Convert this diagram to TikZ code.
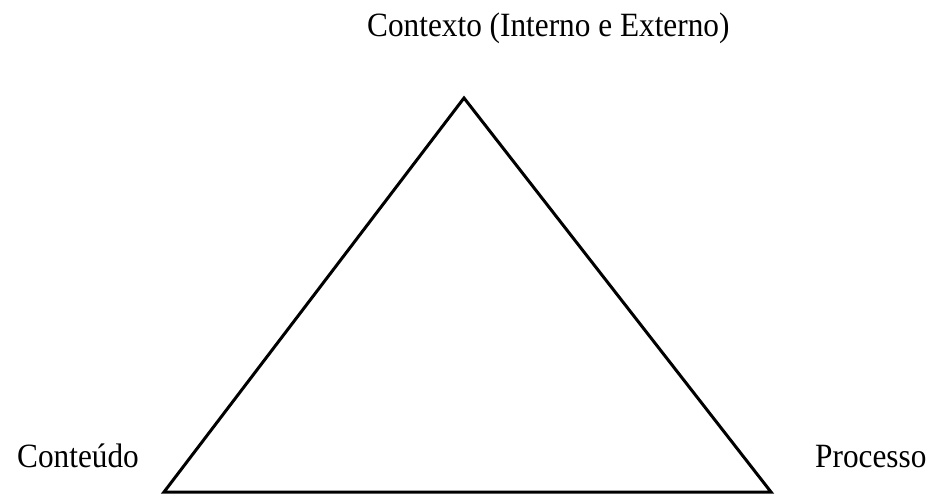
\documentclass[tikz,border=0pt]{standalone}
\usepackage{fontspec}
\usepackage{graphicx}
\setmainfont{Liberation Serif}
\newcommand{\narrowtxt}[1]{\scalebox{0.92}[1]{#1}}
\begin{document}
\begin{tikzpicture}[x=1pt,y=-1pt,
  lbl/.style={inner sep=0pt,anchor=base west,font=\fontsize{34}{40}\selectfont},
  edge/.style={line width=3pt,line join=miter}]
\useasboundingbox[fill=white] (0,0) rectangle (928,495);
\coordinate (top) at (464,98);
\coordinate (left) at (164,492);
\coordinate (right) at (771,492);
\draw[edge] (top) -- (left) -- (right) -- cycle;
\node[lbl] (ctx) at (367,37) {\narrowtxt{Contexto (Interno e Externo)}};
\node[lbl] (cont) at (17,467) {\narrowtxt{Conteúdo}};
\node[lbl] (proc) at (815,467) {\narrowtxt{Processo}};
\end{tikzpicture}
\end{document}
